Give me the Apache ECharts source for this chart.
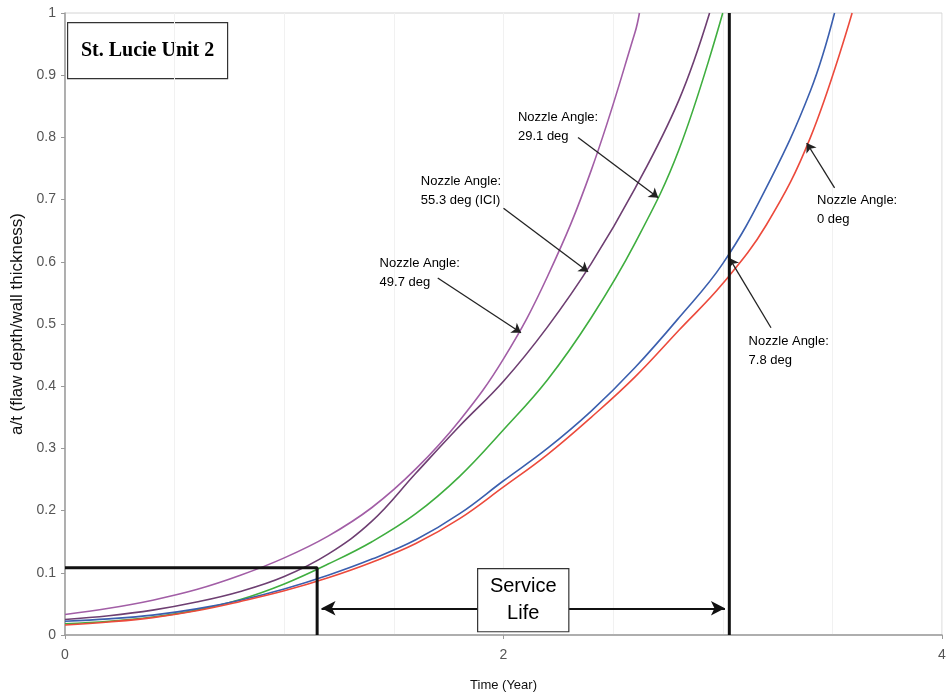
<!DOCTYPE html>
<html>
<head>
<meta charset="utf-8">
<script src="https://cdn.jsdelivr.net/npm/echarts@6.0.0/dist/echarts.min.js"></script>
<style>
  html, body { margin: 0; padding: 0; background: #fff; }
  #chart { width: 950px; height: 698px; }
</style>
</head>
<body>
<div id="chart"></div>
<script>
// Crack growth curves: a/t versus time for each nozzle angle
const years49 = [0, 0.2, 0.4, 0.6, 0.8, 1.0, 1.2, 1.4, 1.6, 1.8, 2.0, 2.2, 2.4, 2.6, 2.62];
const depth49 = [0.033, 0.043, 0.056, 0.073, 0.096, 0.124, 0.159, 0.205, 0.267, 0.345, 0.444, 0.576, 0.747, 0.969, 1.0];

const years55 = [0, 0.2, 0.4, 0.6, 0.8, 1.0, 1.2, 1.4, 1.6, 1.8, 2.0, 2.2, 2.4, 2.6, 2.8, 2.94];
const depth55 = [0.025, 0.031, 0.040, 0.053, 0.070, 0.094, 0.130, 0.183, 0.260, 0.336, 0.408, 0.495, 0.597, 0.718, 0.86, 1.0];

const years29 = [0, 0.2, 0.4, 0.6, 0.8, 1.0, 1.2, 1.4, 1.6, 1.8, 2.0, 2.2, 2.4, 2.6, 2.8, 3.0];
const depth29 = [0.018, 0.022, 0.029, 0.040, 0.057, 0.082, 0.114, 0.150, 0.195, 0.255, 0.33, 0.41, 0.51, 0.63, 0.78, 1.0];

const years08 = [0, 0.2, 0.4, 0.6, 0.8, 1.0, 1.2, 1.4, 1.6, 1.8, 2.0, 2.2, 2.4, 2.6, 2.8, 3.0, 3.2, 3.4, 3.51];
const depth08 = [0.022, 0.026, 0.032, 0.042, 0.056, 0.074, 0.096, 0.122, 0.153, 0.195, 0.248, 0.30, 0.36, 0.43, 0.51, 0.597, 0.72, 0.875, 1.0];

const years00 = [0, 0.2, 0.4, 0.6, 0.8, 1.0, 1.2, 1.4, 1.6, 1.8, 2.0, 2.2, 2.4, 2.6, 2.8, 3.0, 3.2, 3.4, 3.59];
const depth00 = [0.016, 0.021, 0.028, 0.039, 0.054, 0.071, 0.092, 0.117, 0.147, 0.187, 0.238, 0.29, 0.35, 0.415, 0.49, 0.565, 0.66, 0.80, 1.0];

// Service life window
const initialDepth = 0.108;   // a/t at start of growth
const startYear = 1.15;       // time the curves reach the initial depth
const endYear = 3.03;         // time of limiting depth (7.8 deg nozzle)
const arrowLevel = 0.043;     // a/t level of the service-life arrow
const serviceBox = [2.09, 0.056];

// Axis ticks
const xTicks = [0, 2, 4];
const yMin = 0, yMax = 1, yStep = 0.1;

// Callouts: text anchor (top-left), arrow tail, arrow head
const callouts = [
  { text: 'Nozzle Angle:\n29.1 deg',       at: [2.066, 0.848], from: [2.34, 0.800], to: [2.706, 0.703] },
  { text: 'Nozzle Angle:\n55.3 deg (ICI)', at: [1.623, 0.745], from: [2.00, 0.686], to: [2.386, 0.584] },
  { text: 'Nozzle Angle:\n49.7 deg',       at: [1.435, 0.612], from: [1.70, 0.574], to: [2.08, 0.486] },
  { text: 'Nozzle Angle:\n0 deg',          at: [3.430, 0.714], from: [3.51, 0.719], to: [3.383, 0.791] },
  { text: 'Nozzle Angle:\n7.8 deg',        at: [3.118, 0.487], from: [3.22, 0.494], to: [3.03, 0.606] }
];

const pairs = (xs, ys) => xs.map((x, i) => [x, ys[i]]);

function curve(name, xs, ys, color) {
  return {
    name: name, type: 'line', data: pairs(xs, ys),
    showSymbol: false, smooth: 0.4,
    lineStyle: { color: color, width: 1.6 }, silent: true, z: 3
  };
}

const chart = echarts.init(document.getElementById('chart'), null, { renderer: 'canvas' });

const option = {
  animation: false,
  backgroundColor: '#fff',
  grid: { left: 65, right: 8, top: 13, bottom: 63, show: true, borderColor: '#d4d4d4', borderWidth: 1 },
  xAxis: {
    type: 'value', min: 0, max: 4, interval: 2,
    name: 'Time (Year)', nameLocation: 'middle', nameGap: 44,
    nameTextStyle: { fontFamily: 'Liberation Sans, Arial', fontSize: 13, color: '#111' },
    axisLine: { show: true, lineStyle: { color: '#9a9a9a', width: 1.5 } },
    axisTick: { show: true, length: 4, lineStyle: { color: '#9a9a9a' } },
    axisLabel: {
      margin: 13, fontFamily: 'Liberation Sans, Arial', fontSize: 14, color: '#555',
      formatter: v => (xTicks.indexOf(v) >= 0 ? String(v) : '')
    },
    splitLine: { show: true, lineStyle: { color: '#f1f1f1', width: 1 } },
    minorTick: { show: false, splitNumber: 4 },
    minorSplitLine: { show: true, lineStyle: { color: '#f1f1f1', width: 1 } }
  },
  yAxis: {
    type: 'value', min: yMin, max: yMax, interval: yStep,
    name: 'a/t (flaw depth/wall thickness)', nameLocation: 'middle', nameGap: 33,
    nameTextStyle: { fontFamily: 'Liberation Sans, Arial', fontSize: 17, color: '#111' },
    axisLine: { show: true, lineStyle: { color: '#9a9a9a', width: 1.5 } },
    axisTick: { show: true, length: 4, lineStyle: { color: '#9a9a9a' } },
    axisLabel: {
      margin: 9, fontFamily: 'Liberation Sans, Arial', fontSize: 14, color: '#555',
      formatter: v => (Math.round(v * 10) / 10).toString()
    },
    splitLine: { show: false }
  },
  graphic: [
    {
      type: 'group', left: 67, top: 22,
      children: [
        { type: 'rect', shape: { x: 0, y: 0, width: 160, height: 56 },
          style: { fill: '#fff', stroke: '#333', lineWidth: 1.2 } },
        { type: 'text', x: 80, y: 28,
          style: { text: 'St. Lucie Unit 2', fill: '#000', align: 'center', verticalAlign: 'middle',
                   font: 'bold 20px "Liberation Serif", "Times New Roman", serif' } }
      ]
    }
  ],
  series: [
    curve('Nozzle Angle: 49.7 deg', years49, depth49, '#a25ea6'),
    curve('Nozzle Angle: 55.3 deg (ICI)', years55, depth55, '#6e3f72'),
    curve('Nozzle Angle: 29.1 deg', years29, depth29, '#3fae3f'),
    curve('Nozzle Angle: 7.8 deg', years08, depth08, '#3b5fae'),
    curve('Nozzle Angle: 0 deg', years00, depth00, '#ec4a3c'),
    {
      name: 'Initial depth', type: 'line', silent: true, showSymbol: false, z: 5,
      data: [[0, initialDepth], [startYear, initialDepth], [startYear, 0]],
      lineStyle: { color: '#111', width: 3 }
    },
    {
      name: 'End of life', type: 'line', silent: true, showSymbol: false, z: 5,
      data: [[endYear, 0], [endYear, 1]],
      lineStyle: { color: '#111', width: 3 }
    },
    {
      name: 'Service life', type: 'scatter', silent: true, symbolSize: 0, z: 6,
      itemStyle: { opacity: 1 },
      data: [serviceBox],
      label: {
        show: true, position: 'inside', formatter: 'Service\nLife',
        fontFamily: 'Liberation Sans, Arial', fontSize: 20, lineHeight: 27, color: '#000',
        backgroundColor: '#fff', borderColor: '#333', borderWidth: 1.2,
        width: 70, padding: [4, 10], align: 'center'
      },
      markLine: {
        silent: true, symbol: ['arrow', 'arrow'], symbolSize: [11, 14],
        lineStyle: { color: '#111', width: 2, type: 'solid' },
        label: { show: false },
        data: [[{ coord: [startYear + 0.02, arrowLevel] }, { coord: [endYear - 0.02, arrowLevel] }]]
      }
    },
    {
      name: 'Callouts', type: 'scatter', silent: true, symbolSize: 0, z: 7,
      itemStyle: { opacity: 1 },
      data: callouts.map(c => ({ value: c.at, name: c.text })),
      label: {
        show: true, position: [0, 0], align: 'left', verticalAlign: 'top',
        formatter: p => p.name,
        fontFamily: 'Liberation Sans, Arial', fontSize: 13, lineHeight: 19, color: '#000'
      },
      markLine: {
        silent: true, symbol: ['none', 'arrow'], symbolSize: 9,
        lineStyle: { color: '#222', width: 1.3, type: 'solid' },
        label: { show: false },
        data: callouts.map(c => [{ coord: c.from }, { coord: c.to }])
      }
    }
  ]
};

chart.setOption(option);
</script>
</body>
</html>
